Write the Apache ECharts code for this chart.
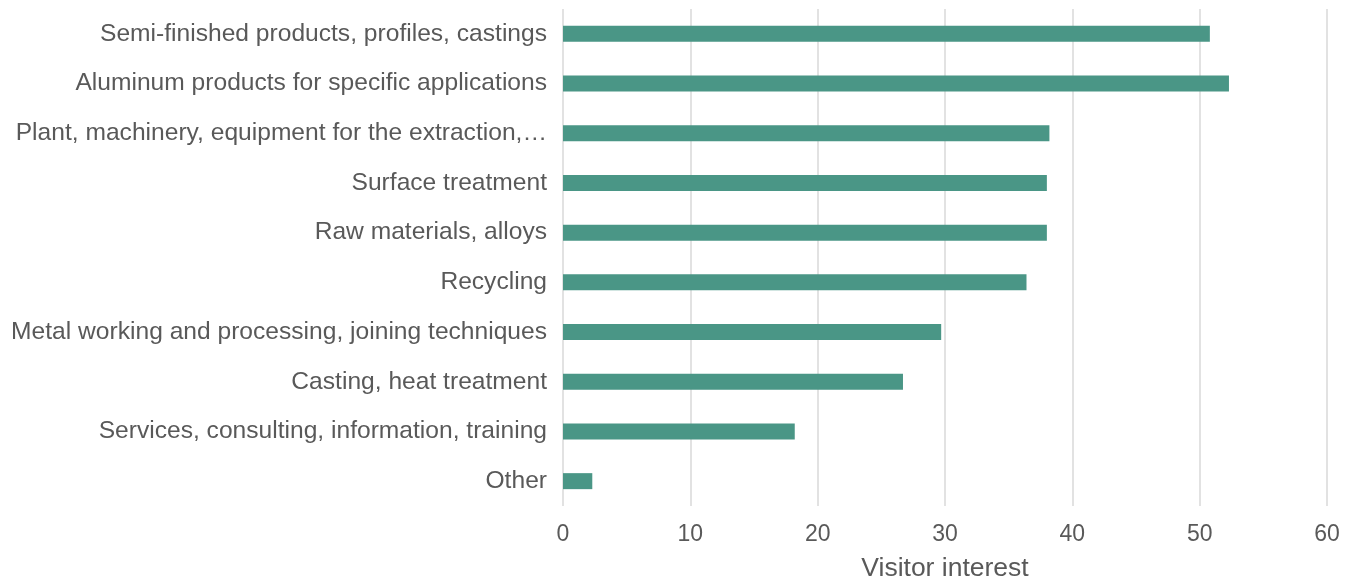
<!DOCTYPE html>
<html>
<head>
<meta charset="utf-8">
<script src="https://cdn.jsdelivr.net/npm/echarts@6/dist/echarts.min.js"></script>
<style>
html,body{margin:0;padding:0;background:#fff;}
#chart{width:1359px;height:582px;}
</style>
</head>
<body>
<div id="chart"></div>
<script>
const categories = [
  "Semi-finished products, profiles, castings",
  "Aluminum products for specific applications",
  "Plant, machinery, equipment for the extraction,…",
  "Surface treatment",
  "Raw materials, alloys",
  "Recycling",
  "Metal working and processing, joining techniques",
  "Casting, heat treatment",
  "Services, consulting, information, training",
  "Other"
];
const values = [50.8, 52.3, 38.2, 38.0, 38.0, 36.4, 29.7, 26.7, 18.2, 2.3];
const xTicks = [0, 10, 20, 30, 40, 50, 60];
const axisTitle = "Visitor interest";

const FONT = '"Liberation Sans", Arial, sans-serif';
const chart = echarts.init(document.getElementById('chart'), null, {renderer: 'canvas'});
chart.setOption({
  animation: false,
  backgroundColor: '#ffffff',
  textStyle: {fontFamily: FONT},
  grid: {left: 563, right: 32, top: 9, bottom: 76, containLabel: false, outerBoundsMode: 'none'},
  xAxis: {
    type: 'value',
    min: xTicks[0],
    max: xTicks[xTicks.length - 1],
    interval: 10,
    axisLine: {show: false},
    axisTick: {show: false},
    splitLine: {show: true, lineStyle: {color: '#d9d9d9', width: 1.5}},
    axisLabel: {color: '#595959', fontSize: 23, margin: 17, fontFamily: FONT},
    name: axisTitle,
    nameLocation: 'middle',
    nameGap: 49,
    nameTextStyle: {color: '#595959', fontSize: 26.5, fontFamily: FONT}
  },
  yAxis: {
    type: 'category',
    data: categories,
    inverse: true,
    axisLine: {show: false},
    axisTick: {show: false},
    splitLine: {show: false},
    axisLabel: {color: '#595959', fontSize: 24.6, margin: 16, fontFamily: FONT}
  },
  series: [{
    type: 'bar',
    data: values,
    barWidth: 16,
    itemStyle: {color: '#4a9686'}
  }]
});
</script>
</body>
</html>
